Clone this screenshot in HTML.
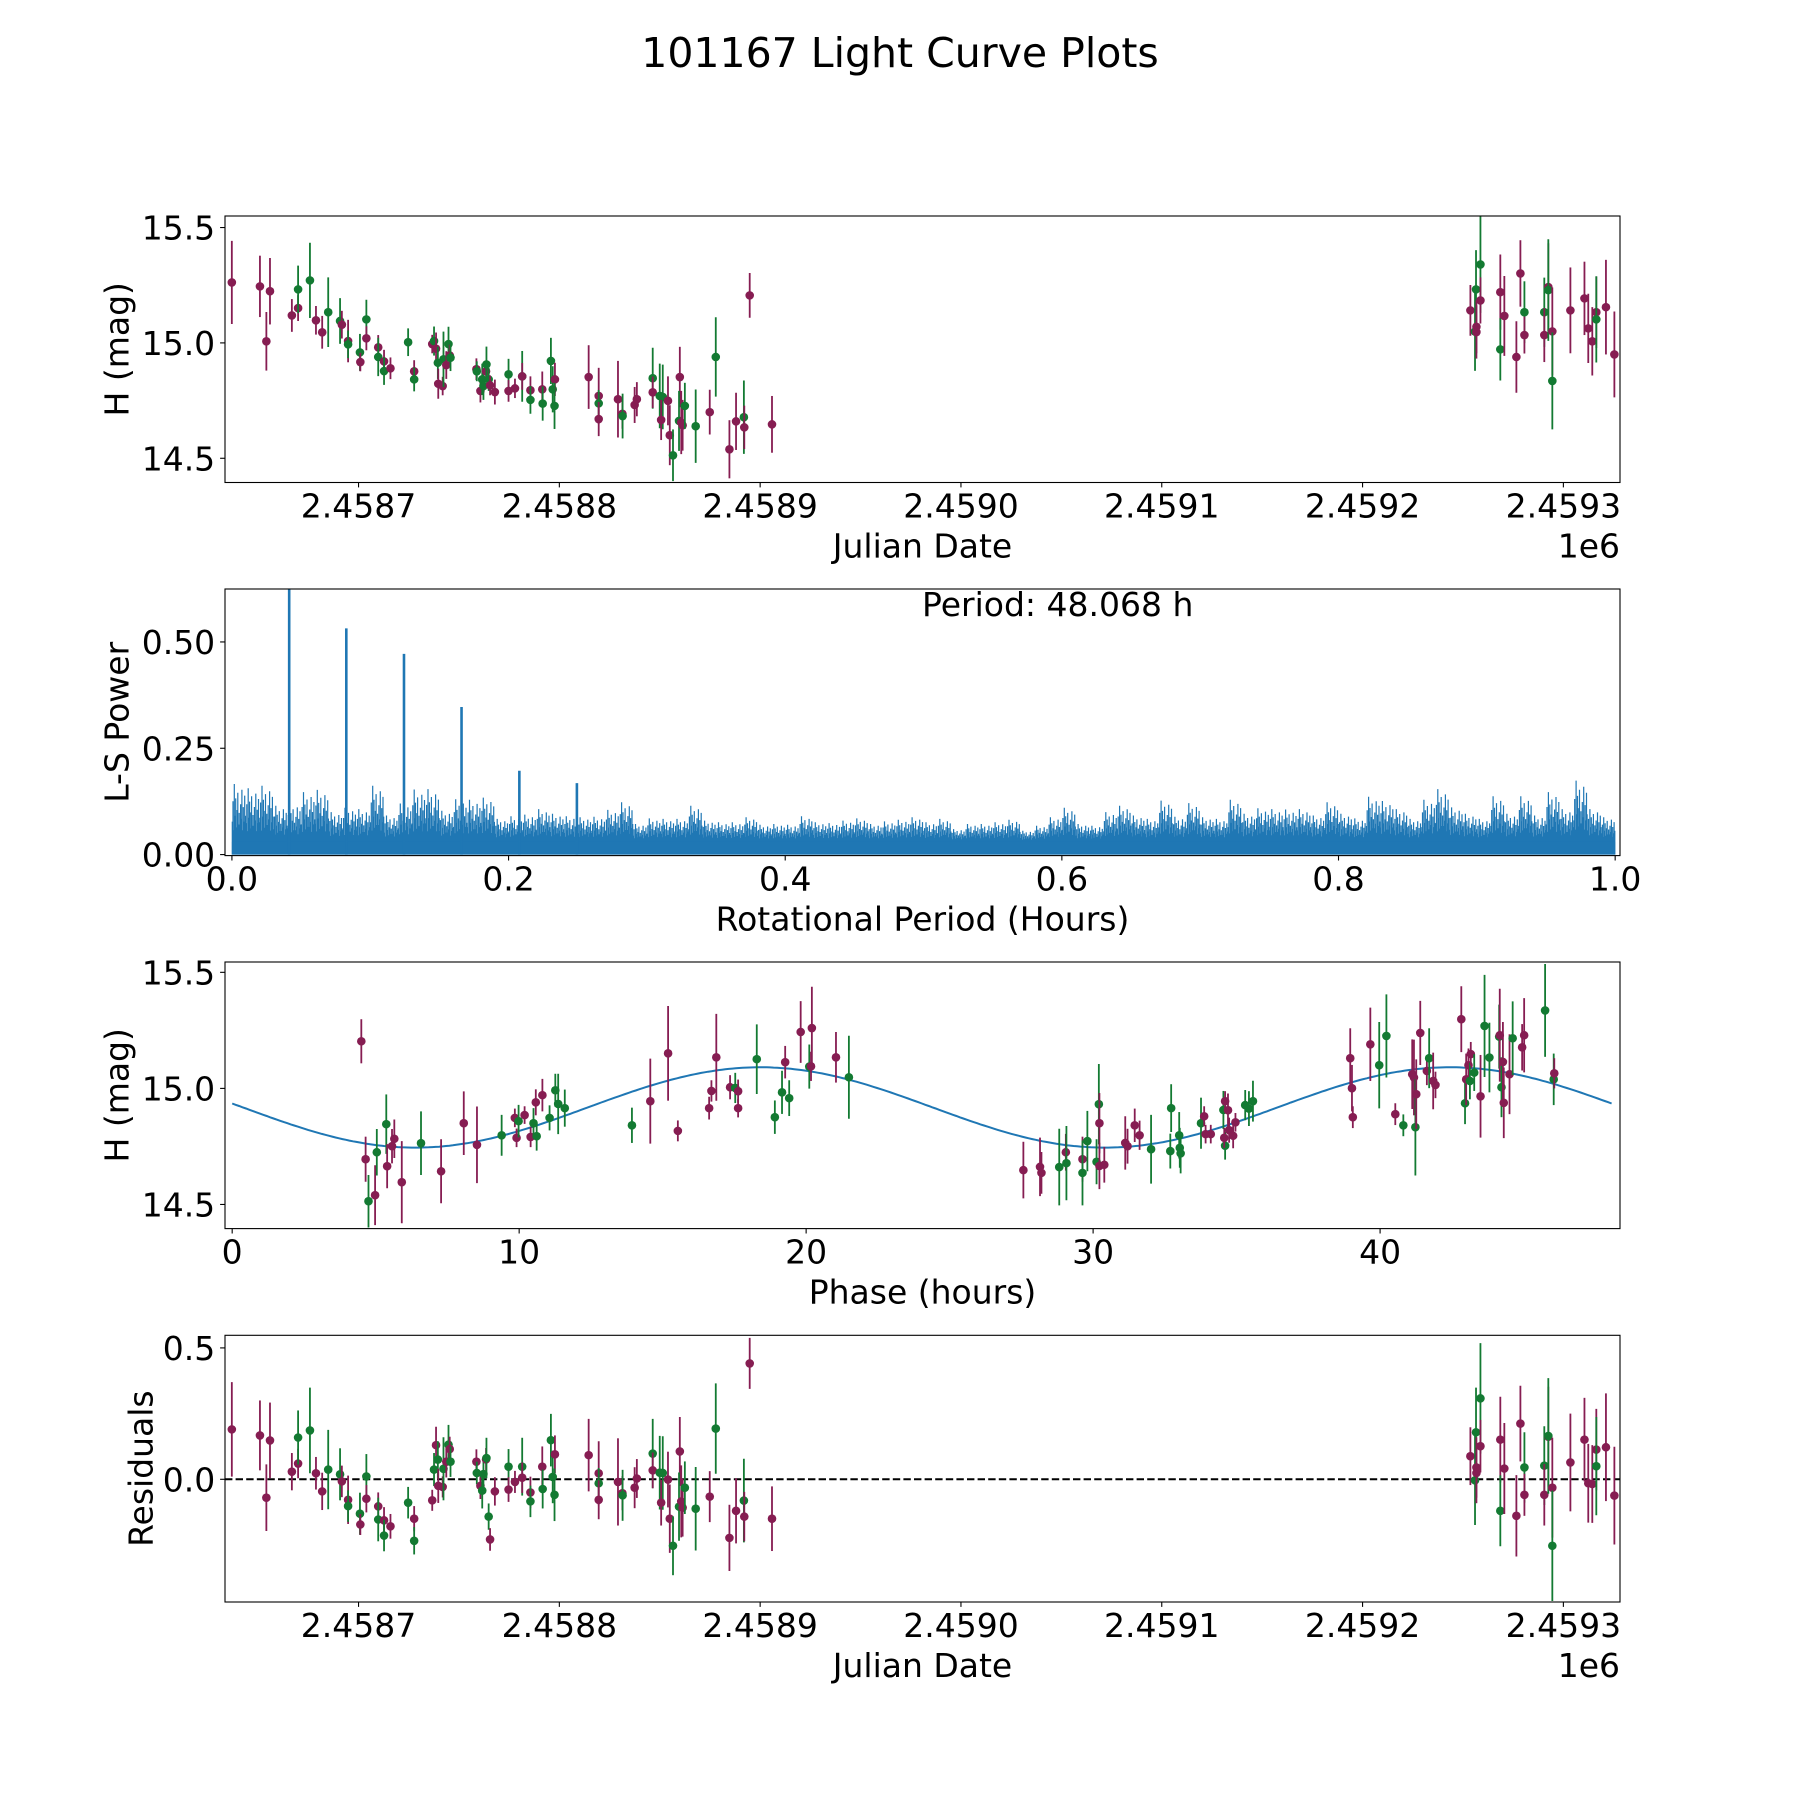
<!DOCTYPE html>
<html><head><meta charset="utf-8"><title>101167 Light Curve Plots</title>
<style>
html,body{margin:0;padding:0;background:#fff;}
svg{display:block;font-family:"DejaVu Sans","Liberation Sans",sans-serif;}
</style></head>
<body>
<svg id="fig" width="1800" height="1800" viewBox="0 0 1800 1800" xmlns="http://www.w3.org/2000/svg">
<rect x="0" y="0" width="1800" height="1800" fill="#fff"/>
<text x="900" y="67" font-size="41" text-anchor="middle">101167 Light Curve Plots</text>
<defs>
<clipPath id="clip1"><rect x="225" y="216" width="1395" height="266.5"/></clipPath>
<clipPath id="clip2"><rect x="225" y="589" width="1395" height="266.6"/></clipPath>
<clipPath id="clip3"><rect x="225" y="962" width="1395" height="266.6"/></clipPath>
<clipPath id="clip4"><rect x="225" y="1335.3" width="1395" height="266.7"/></clipPath>
</defs>
<g id="root"></g>
</svg>
<script>
// ---------- Panel 1 / 4 data (Julian date offsets from 2458700) ----------
const jdOffset = [-63.1,-49.1,-45.9,-44.1,-33.2,-30.1,-30.1,-24.2,-21.2,-18.1,-15.1,-9.2,-8.3,-5.2,-5.2,0.7,0.9,3.9,3.9,9.8,9.8,12.7,12.7,15.9,24.7,27.7,27.7,36.7,37.6,38.6,39.5,39.7,41.9,42.3,43.7,44.8,45.4,45.8,58.7,58.9,60.7,61.6,62.2,63.5,63.7,64.8,65.5,67.9,74.7,74.7,77.9,81.5,81.5,85.6,85.6,91.5,91.7,95.8,96.7,97.8,97.6,114.6,119.6,119.6,119.6,129.2,131.4,131.5,137.5,138.6,146.5,146.5,150,151.5,150.7,154.1,155,156.6,160,159.6,160.7,161.4,162.5,167.9,174.9,177.9,184.7,188,191.9,192.1,194.8,205.9,
553.7,556,556.5,556.7,556.7,558.7,558.7,568.6,568.6,570.6,576.6,578.6,580.6,580.6,590.5,590.5,592.5,592.5,594.5,594.5,603.5,610.5,612.4,614.4,616.4,616.4,621.2,625.4];
const magH = [15.262,15.245,15.007,15.224,15.119,15.151,15.232,15.271,15.098,15.046,15.133,15.095,15.079,15.008,14.994,14.959,14.917,15.102,15.02,14.981,14.939,14.92,14.878,14.89,15.003,14.877,14.842,14.995,15.008,14.975,14.914,14.823,14.813,14.929,14.904,14.995,14.946,14.936,14.886,14.877,14.792,14.842,14.813,14.877,14.907,14.842,14.816,14.787,14.864,14.792,14.803,14.855,14.855,14.795,14.753,14.799,14.737,14.922,14.799,14.842,14.727,14.852,14.77,14.738,14.67,14.756,14.693,14.683,14.731,14.756,14.847,14.786,14.77,14.766,14.666,14.749,14.6,14.513,14.852,14.662,14.655,14.643,14.727,14.639,14.7,14.939,14.539,14.66,14.678,14.634,15.206,14.647,
15.141,15.049,15.232,15.07,15.047,15.34,15.184,15.22,14.972,15.117,14.939,15.301,15.133,15.034,15.133,15.034,15.242,15.229,15.05,14.835,15.141,15.193,15.063,15.007,15.133,15.102,15.155,14.95];
const magErr = [.18,.133,.127,.144,.071,.056,.103,.163,.062,.071,.151,.099,.06,.092,.06,.08,.04,.085,.052,.053,.083,.05,.06,.047,.06,.048,.052,.04,.063,.07,.07,.065,.04,.12,.06,.075,.047,.058,.047,.043,.05,.068,.06,.043,.077,.05,.043,.054,.067,.047,.042,.11,.058,.06,.06,.077,.074,.1,.1,.072,.1,.138,.122,.058,.074,.166,.065,.097,.078,.074,.132,.068,.14,.14,.087,.106,.13,.112,.131,.13,.137,.11,.1,.159,.097,.172,.126,.124,.159,.094,.097,.123,
.11,.17,.17,.115,.115,.21,.1,.163,.135,.173,.155,.144,.134,.08,.15,.117,.19,.22,.19,.21,.186,.159,.15,.148,.155,.187,.205,.186];
const band = "PPPPPPGGPPGGPPGGPGPPGPGPGPGPGPGPPGPGPGPGPGGPGGPPGPPGPPGPGGGPGPPGPPPGPPGPGGPPPGPGPPGGPGPPGPPP"+"PGGPPGPPGPPPGPGPPGPGPPPPPGPP";
const residual = [0.19,0.167,-0.07,0.148,0.029,0.06,0.159,0.186,0.023,-0.046,0.037,0.019,-0.008,-0.078,-0.102,-0.131,-0.172,0.011,-0.074,-0.103,-0.153,-0.156,-0.214,-0.179,-0.089,-0.15,-0.234,-0.08,0.037,0.13,0.075,-0.025,-0.029,0.04,0.067,0.132,0.115,0.067,0.067,0.024,-0.025,-0.043,0.02,0.076,0.081,-0.142,-0.229,-0.046,0.048,-0.039,-0.01,0.048,0.006,-0.05,-0.084,0.048,-0.037,0.149,0.009,0.095,-0.059,0.092,0.023,-0.015,-0.078,-0.01,-0.053,-0.061,-0.032,0.003,0.098,0.034,0.025,0.024,-0.089,-0.001,-0.15,-0.253,0.106,-0.104,-0.084,-0.108,-0.032,-0.112,-0.066,0.193,-0.223,-0.12,-0.081,-0.142,0.441,-0.15,
0.088,-0.004,0.179,0.045,0.024,0.308,0.126,0.151,-0.12,0.041,-0.139,0.212,0.045,-0.059,0.052,-0.059,0.162,0.165,-0.032,-0.253,0.064,0.151,-0.015,-0.018,0.113,0.05,0.122,-0.062];
const jdTicks = [2458700,2458800,2458900,2459000,2459100,2459200,2459300];
const jdTickLabels = ["2.4587","2.4588","2.4589","2.4590","2.4591","2.4592","2.4593"];
const magTicks = [14.5,15.0,15.5];
const magTickLabels = ["14.5","15.0","15.5"];
const resTicks = [0.0,0.5];
const resTickLabels = ["0.0","0.5"];

// ---------- Panel 2 (periodogram) ----------
const binMaxPower = [0.166,0.156,0.162,0.115,0.12,0.147,0.152,0.1,0.11,0.107,0.162,0.092,0.12,0.153,0.154,0.103,0.13,0.129,0.134,0.084,0.09,0.094,0.107,0.096,0.09,0.088,0.089,0.105,0.123,0.072,0.085,0.084,0.084,0.115,0.08,0.076,0.076,0.088,0.07,0.072,0.07,0.09,0.076,0.074,0.08,0.085,0.072,0.078,0.082,0.088,
0.076,0.084,0.06,0.072,0.072,0.076,0.082,0.056,0.068,0.088,0.11,0.072,0.068,0.1,0.115,0.092,0.084,0.127,0.089,0.121,0.088,0.084,0.129,0.096,0.109,0.107,0.106,0.107,0.092,0.123,0.096,0.085,0.136,0.126,0.107,0.084,0.129,0.154,0.111,0.096,0.084,0.137,0.096,0.137,0.092,0.147,0.107,0.174,0.107,0.088];
const spikePeriods = [0.0414,0.0827,0.1244,0.166,0.2078,0.2494];
const spikePowers = [0.64,0.532,0.472,0.347,0.197,0.168];
const powTicks = [0,0.25,0.5];
const powTickLabels = ["0.00","0.25","0.50"];
const perTicks = [0,0.2,0.4,0.6,0.8,1.0];
const perTickLabels = ["0.0","0.2","0.4","0.6","0.8","1.0"];
const periodHours = 48.068;

// ---------- Panel 3 (phased) ----------
const phase = [4.5,4.65,4.75,4.98,5.04,5.37,5.4,5.57,5.65,5.91,6.58,7.28,8.07,8.53,9.39,9.85,9.91,9.98,10.19,10.4,10.5,10.58,10.61,10.81,11.06,11.26,11.36,11.59,13.93,14.57,15.19,15.53,16.62,16.7,16.87,17.35,17.53,17.63,17.63,18.28,18.91,19.16,19.27,19.41,19.81,20.11,20.17,20.2,21.04,21.49,
27.57,28.15,28.2,28.82,29.05,29.07,29.63,29.63,29.8,30.12,30.2,30.22,30.22,30.39,31.12,31.2,31.45,31.62,32.02,32.69,32.72,33,33.02,33.05,33.76,33.87,33.92,34.1,34.54,34.6,34.6,34.57,34.7,34.74,34.88,34.96,35.3,35.43,35.57,38.96,39.02,39.05,39.66,39.97,40.22,40.53,40.81,41.12,41.18,41.23,41.26,41.4,41.63,41.71,41.85,41.93,42.83,42.96,43,43.08,43.13,43.16,43.28,43.5,43.64,43.81,44.15,44.17,44.23,44.28,44.31,44.51,44.62,44.95,45.02,45.75,46.05,46.07];
const phaseMag = [15.203,14.695,14.514,14.54,14.725,14.846,14.665,14.751,14.783,14.596,14.764,14.643,14.85,14.757,14.798,14.873,14.787,14.859,14.885,14.791,14.85,14.94,14.794,14.971,14.873,14.992,14.933,14.915,14.841,14.945,15.151,14.817,14.915,14.989,15.134,15.005,15.002,14.988,14.915,15.126,14.876,14.983,15.113,14.958,15.243,15.094,15.095,15.26,15.134,15.048,
14.648,14.662,14.636,14.661,14.725,14.678,14.695,14.636,14.773,14.684,14.932,14.85,14.666,14.671,14.765,14.751,14.841,14.798,14.738,14.73,14.915,14.798,14.744,14.72,14.85,14.88,14.803,14.803,14.907,14.945,14.753,14.787,14.906,14.82,14.796,14.854,14.928,14.913,14.945,15.13,15.001,14.876,15.19,15.1,15.226,14.889,14.841,15.061,15.047,14.833,14.975,15.239,15.075,15.13,15.032,15.015,15.298,14.936,15.039,15.1,15.032,15.148,15.068,14.966,15.269,15.133,15.223,15.229,15.005,15.114,14.938,15.061,15.216,15.177,15.229,15.336,15.039,15.065];
const phaseErr = [.095,.097,.113,.129,.1,.128,.095,.074,.083,.177,.137,.138,.137,.165,.088,.04,.04,.07,.038,.044,.065,.056,.062,.07,.054,.071,.13,.08,.076,.183,.204,.045,.049,.046,.187,.052,.065,.05,.04,.15,.072,.093,.07,.077,.133,.095,.063,.178,.109,.179,
.122,.126,.09,.165,.079,.16,.097,.14,.13,.097,.173,.13,.1,.077,.115,.075,.072,.063,.148,.075,.103,.1,.086,.086,.11,.043,.04,.04,.082,.043,.06,.043,.072,.054,.054,.04,.065,.075,.088,.129,.1,.047,.158,.186,.179,.047,.047,.15,.163,.208,.15,.138,.061,.129,.122,.057,.142,.09,.111,.072,.079,.052,.079,.178,.22,.15,.138,.2,.129,.172,.152,.172,.159,.1,.16,.2,.111,.065];
const phaseBand = "PPGPGGPPPPGPPPGPPGPPGPGPGGGGGPPPPPPPGPPGGGPGPGPPPG"+"PPPGPGPGGGGPPPPPPPGGGGGGGPPPGPGPPPPPGGGPPPPGGPGPPGPPPGPPPGPPGPGPGGGPGPPPGPPGGPP";
const phaseTicks = [0,10,20,30,40];
const phaseTickLabels = ["0","10","20","30","40"];
const fitMean = [14.918];
const fitAmp = [0.173];
const fitPeakPhase = [18.4];

// ---------- helpers ----------
const NS = "http://www.w3.org/2000/svg";
const root = document.getElementById("root");
const COL = {P:"#861d52", G:"#137a32"};
function el(tag, attrs, parent){
  const e = document.createElementNS(NS, tag);
  for (const k in attrs) e.setAttribute(k, attrs[k]);
  (parent||root).appendChild(e);
  return e;
}
function lin(d0,d1,r0,r1){ return v => r0 + (v-d0)*(r1-r0)/(d1-d0); }

function axesFrame(g, box, name){
  const r = el("rect",{x:box.x0,y:box.y0,width:box.x1-box.x0,height:box.y1-box.y0,fill:"none",stroke:"#000","stroke-width":1.1}, g);
  
  
}
function xTicks(g, box, sx, ticks, labels, name){
  ticks.forEach((t,i)=>{
    const x = sx(t);
    const tl = el("line",{x1:x,x2:x,y1:box.y1,y2:box.y1+4.9,stroke:"#000","stroke-width":1.1}, g);
    
    
    const tx = el("text",{x:x,y:box.y1+35,"font-size":33,"text-anchor":"middle"}, g);
    tx.textContent = labels[i];
    
    
  });
}
function yTicks(g, box, sy, ticks, labels, name){
  ticks.forEach((t,i)=>{
    const y = sy(t);
    const tl = el("line",{x1:box.x0-4.9,x2:box.x0,y1:y,y2:y,stroke:"#000","stroke-width":1.1}, g);
    
    
    const tx = el("text",{x:box.x0-9.8,y:y+12,"font-size":33,"text-anchor":"end"}, g);
    tx.textContent = labels[i];
    
    
  });
}
function labels(g, box, xl, yl, ylx, name){
  const a = el("text",{x:(box.x0+box.x1)/2,y:box.y1+75,"font-size":33,"text-anchor":"middle"}, g);
  a.textContent = xl;
  
  
  const cy = (box.y0+box.y1)/2;
  const b = el("text",{x:ylx,y:cy,"font-size":33,"text-anchor":"middle","dominant-baseline":"central",transform:`rotate(-90 ${ylx} ${cy})`}, g);
  b.textContent = yl;
  
  
}
function errPoints(g, xs, ys, errs, bands, sx, sy, name){
  xs.forEach((xv,i)=>{
    const x = sx(xv), c = COL[bands[i]];
    const ln = el("line",{x1:x,x2:x,y1:sy(ys[i]-errs[i]),y2:sy(ys[i]+errs[i]),stroke:c,"stroke-width":1.8}, g);
    
    
    const d = el("circle",{cx:x,cy:sy(ys[i]),r:4.3,fill:c}, g);
    
    
  });
}

// ---------- Panel 1 ----------
(function(){
  const box = {x0:225,x1:1620,y0:216,y1:482.5};
  const g = el("g",{});  
  const sx = lin(2458633.5, 2459328.2, box.x0, box.x1);
  const sy = lin(14.395, 15.55, box.y1, box.y0);
  const pg = el("g",{"clip-path":"url(#clip1)"}, g);
   
  errPoints(pg, jdOffset.map(d=>2458700+d), magH, magErr, band, sx, sy, "light-curve");
  axesFrame(g, box, "light-curve");
  xTicks(g, box, sx, jdTicks, jdTickLabels, "light-curve");
  yTicks(g, box, sy, magTicks, magTickLabels, "light-curve");
  labels(g, box, "Julian Date", "H (mag)", 117, "light-curve");
  const off = el("text",{x:1620,y:box.y1+75,"font-size":33,"text-anchor":"end"}, g);
  off.textContent = "1e6";
   
})();

// ---------- Panel 2 ----------
(function(){
  const box = {x0:225,x1:1620,y0:589,y1:855.6};
  const g = el("g",{});  
  const sx = lin(-0.005, 1.0035, box.x0, box.x1);
  const sy = lin(-0.0024, 0.6245, box.y1, box.y0);
  const pg = el("g",{"clip-path":"url(#clip2)"}, g);
   
  const pattern = [0.35,0.7,0.2,1.0,0.45,0.75,0.25,0.55,0.85,0.3,0.5,0.3,0.65,0.4,0.9,0.2,0.6,0.35,0.8,0.45];
  const base = 0.03;
  const nb = binMaxPower.length, w = 1.0/nb;
  let dstr = "";
  binMaxPower.forEach((m,i)=>{
    for (let k=0;k<pattern.length;k++){
      const p = i*w + (k+0.5)*w/pattern.length;
      const h = base + (m-base)*pattern[k];
      dstr += `M${sx(p).toFixed(1)},${sy(0).toFixed(1)}V${sy(h).toFixed(1)}`;
    }
  });
  const noise = el("path",{d:dstr,stroke:"#1f77b4","stroke-width":1.2,fill:"none"}, pg);
   
  const fillBase = el("rect",{x:sx(0),y:sy(base),width:sx(1)-sx(0),height:sy(0)-sy(base),fill:"#1f77b4"}, pg);
   
  spikePeriods.forEach((p,i)=>{
    const s = el("line",{x1:sx(p),x2:sx(p),y1:sy(0),y2:sy(spikePowers[i]),stroke:"#1f77b4","stroke-width":2.6}, pg);
     
  });
  axesFrame(g, box, "periodogram");
  xTicks(g, box, sx, perTicks, perTickLabels, "periodogram");
  yTicks(g, box, sy, powTicks, powTickLabels, "periodogram");
  labels(g, box, "Rotational Period (Hours)", "L-S Power", 117, "periodogram");
  const t = el("text",{x:922,y:616,"font-size":33}, g);
  t.textContent = "Period: " + periodHours.toFixed(3) + " h";
   
})();

// ---------- Panel 3 ----------
(function(){
  const box = {x0:225,x1:1620,y0:962,y1:1228.6};
  const g = el("g",{});  
  const sx = lin(-0.25, 48.36, box.x0, box.x1);
  const sy = lin(14.396, 15.5445, box.y1, box.y0);
  const pg = el("g",{"clip-path":"url(#clip3)"}, g);
   
  const half = periodHours/2;
  let d = "";
  for (let i=0;i<=400;i++){
    const p = periodHours*i/400;
    const m = fitMean[0] + fitAmp[0]*Math.cos(2*Math.PI*(p-fitPeakPhase[0])/half);
    d += (i?"L":"M") + sx(p).toFixed(1) + "," + sy(m).toFixed(1);
  }
  const fit = el("path",{d:d,stroke:"#1f77b4","stroke-width":2,fill:"none"}, pg);
   
  errPoints(pg, phase, phaseMag, phaseErr, phaseBand, sx, sy, "phased");
  axesFrame(g, box, "phased");
  xTicks(g, box, sx, phaseTicks, phaseTickLabels, "phased");
  yTicks(g, box, sy, magTicks, magTickLabels, "phased");
  labels(g, box, "Phase (hours)", "H (mag)", 117, "phased");
})();

// ---------- Panel 4 ----------
(function(){
  const box = {x0:225,x1:1620,y0:1335.3,y1:1602};
  const g = el("g",{});  
  const sx = lin(2458633.5, 2459328.2, box.x0, box.x1);
  const sy = lin(-0.467, 0.548, box.y1, box.y0);
  const pg = el("g",{"clip-path":"url(#clip4)"}, g);
   
  const z = el("line",{x1:box.x0,x2:box.x1,y1:sy(0),y2:sy(0),stroke:"#000","stroke-width":2,"stroke-dasharray":"7.4,3.2"}, pg);
   
  errPoints(pg, jdOffset.map(d=>2458700+d), residual, magErr, band, sx, sy, "residual");
  axesFrame(g, box, "residuals");
  xTicks(g, box, sx, jdTicks, jdTickLabels, "residuals");
  yTicks(g, box, sy, resTicks, resTickLabels, "residuals");
  labels(g, box, "Julian Date", "Residuals", 141, "residuals");
  const off = el("text",{x:1620,y:box.y1+75,"font-size":33,"text-anchor":"end"}, g);
  off.textContent = "1e6";
   
})();
</script>
</body></html>
